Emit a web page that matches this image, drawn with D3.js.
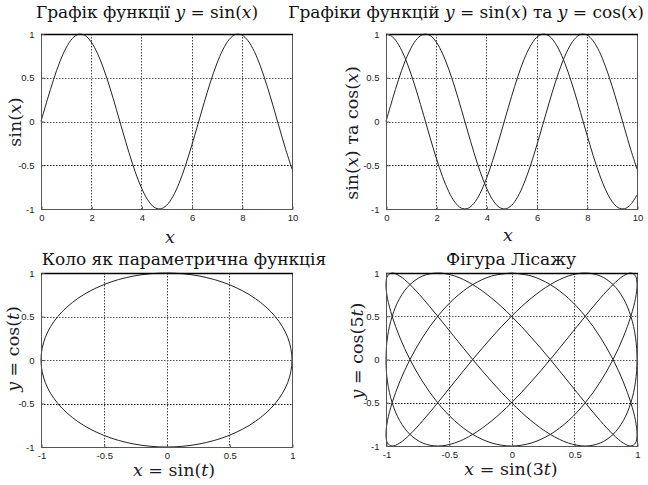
<!DOCTYPE html>
<html><head><meta charset="utf-8">
<script src="https://cdn.jsdelivr.net/npm/d3@7"></script>
<style>
html,body{margin:0;padding:0;background:#fff;}
svg{display:block;}
.tick-label{font-family:"Liberation Sans",Arial,sans-serif;font-size:9.5px;fill:#222;}
.title{font-family:"DejaVu Serif",serif;font-size:17px;fill:#111;}
.alabel{font-family:"DejaVu Serif",serif;font-size:17.5px;fill:#1a1a28;}
</style>
</head><body>
<svg id="chart" width="648" height="485"></svg>
<script>
// ---------- data ----------
const xTicksTop = [0, 2, 4, 6, 8, 10];
const yTicks = [-1, -0.5, 0, 0.5, 1];
const xTicksBottom = [-1, -0.5, 0, 0.5, 1];

const xVals = [0,0.25,0.5,0.75,1,1.25,1.5,1.75,2,2.25,2.5,2.75,3,3.25,3.5,3.75,4,4.25,4.5,4.75,5,
  5.25,5.5,5.75,6,6.25,6.5,6.75,7,7.25,7.5,7.75,8,8.25,8.5,8.75,9,9.25,9.5,9.75,10];
const sinVals = [0,0.247,0.479,0.682,0.841,0.949,0.997,0.984,0.909,0.778,0.598,0.382,0.141,-0.108,-0.351,
  -0.572,-0.757,-0.895,-0.978,-0.999,-0.959,-0.859,-0.706,-0.508,-0.279,-0.033,0.215,0.450,0.657,0.823,
  0.938,0.995,0.989,0.922,0.799,0.625,0.412,0.174,-0.075,-0.320,-0.544];
const cosVals = [1,0.969,0.878,0.732,0.540,0.315,0.071,-0.178,-0.416,-0.628,-0.801,-0.924,-0.990,-0.994,-0.936,
  -0.821,-0.654,-0.446,-0.211,0.038,0.284,0.512,0.709,0.861,0.960,0.999,0.977,0.893,0.754,0.568,
  0.347,0.104,-0.146,-0.386,-0.602,-0.781,-0.911,-0.985,-0.997,-0.948,-0.839];

const circleX = [0,0.259,0.5,0.707,0.866,0.966,1,0.966,0.866,0.707,0.5,0.259,0,
  -0.259,-0.5,-0.707,-0.866,-0.966,-1,-0.966,-0.866,-0.707,-0.5,-0.259];
const circleY = [1,0.966,0.866,0.707,0.5,0.259,0,-0.259,-0.5,-0.707,-0.866,-0.966,-1,
  -0.966,-0.866,-0.707,-0.5,-0.259,0,0.259,0.5,0.707,0.866,0.966];

const lissX = [
  0,0.156,0.309,0.454,0.588,0.707,0.809,0.891,0.951,0.988,1,0.988,0.951,0.891,0.809,0.707,0.588,0.454,0.309,0.156,
  0,-0.156,-0.309,-0.454,-0.588,-0.707,-0.809,-0.891,-0.951,-0.988,-1,-0.988,-0.951,-0.891,-0.809,-0.707,-0.588,-0.454,-0.309,-0.156,
  0,0.156,0.309,0.454,0.588,0.707,0.809,0.891,0.951,0.988,1,0.988,0.951,0.891,0.809,0.707,0.588,0.454,0.309,0.156,
  0,-0.156,-0.309,-0.454,-0.588,-0.707,-0.809,-0.891,-0.951,-0.988,-1,-0.988,-0.951,-0.891,-0.809,-0.707,-0.588,-0.454,-0.309,-0.156,
  0,0.156,0.309,0.454,0.588,0.707,0.809,0.891,0.951,0.988,1,0.988,0.951,0.891,0.809,0.707,0.588,0.454,0.309,0.156,
  0,-0.156,-0.309,-0.454,-0.588,-0.707,-0.809,-0.891,-0.951,-0.988,-1,-0.988,-0.951,-0.891,-0.809,-0.707,-0.588,-0.454,-0.309,-0.156,
  0];
const lissY = [
  1,0.966,0.866,0.707,0.5,0.259,0,-0.259,-0.5,-0.707,-0.866,-0.966,-1,-0.966,-0.866,-0.707,-0.5,-0.259,0,0.259,0.5,0.707,0.866,0.966,
  1,0.966,0.866,0.707,0.5,0.259,0,-0.259,-0.5,-0.707,-0.866,-0.966,-1,-0.966,-0.866,-0.707,-0.5,-0.259,0,0.259,0.5,0.707,0.866,0.966,
  1,0.966,0.866,0.707,0.5,0.259,0,-0.259,-0.5,-0.707,-0.866,-0.966,-1,-0.966,-0.866,-0.707,-0.5,-0.259,0,0.259,0.5,0.707,0.866,0.966,
  1,0.966,0.866,0.707,0.5,0.259,0,-0.259,-0.5,-0.707,-0.866,-0.966,-1,-0.966,-0.866,-0.707,-0.5,-0.259,0,0.259,0.5,0.707,0.866,0.966,
  1,0.966,0.866,0.707,0.5,0.259,0,-0.259,-0.5,-0.707,-0.866,-0.966,-1,-0.966,-0.866,-0.707,-0.5,-0.259,0,0.259,0.5,0.707,0.866,0.966,
  1];

// rich text pieces: [text, italic?]
const titles = [
  [["Графік функції ",0],["y",1],[" = sin(",0],["x",1],[")",0]],
  [["Графіки функцій ",0],["y",1],[" = sin(",0],["x",1],[") та ",0],["y",1],[" = cos(",0],["x",1],[")",0]],
  [["Коло як параметрична функція",0]],
  [["Фігура Лісажу",0]]
];
const xLabels = [
  [["x",1]],
  [["x",1]],
  [["x",1],[" = sin(",0],["t",1],[")",0]],
  [["x",1],[" = sin(3",0],["t",1],[")",0]]
];
const yLabels = [
  [["sin(",0],["x",1],[")",0]],
  [["sin(",0],["x",1],[") та cos(",0],["x",1],[")",0]],
  [["y",1],[" = cos(",0],["t",1],[")",0]],
  [["y",1],[" = cos(5",0],["t",1],[")",0]]
];

// ---------- layout ----------
const panels = [
  {x0:41, x1:292, y0:34, y1:209, xd:[0,10], xt:xTicksTop, tx:147, ty:18, lx:170, ly:243, yx:21, yy:122,
   series:[{x:xVals, y:sinVals, closed:false}]},
  {x0:386, x1:637, y0:34, y1:209, xd:[0,10], xt:xTicksTop, tx:466, ty:18, lx:508, ly:241, yx:358, yy:133,
   series:[{x:xVals, y:sinVals, closed:false},{x:xVals, y:cosVals, closed:false}]},
  {x0:41, x1:292, y0:273, y1:447, xd:[-1,1], xt:xTicksBottom, tx:184, ty:265, lx:174, ly:476, yx:19, yy:349,
   series:[{x:circleX, y:circleY, closed:true}]},
  {x0:386, x1:637, y0:273, y1:446, xd:[-1,1], xt:xTicksBottom, tx:511, ty:265, lx:511, ly:475, yx:363, yy:351,
   series:[{x:lissX, y:lissY, closed:false}]}
];

const svg = d3.select("#chart");
const fmt = d => String(d);

function rich(sel, parts){
  parts.forEach(([t,it]) => {
    sel.append("tspan").text(t).attr("font-style", it ? "italic" : "normal");
  });
}

panels.forEach((p, i) => {
  const x = d3.scaleLinear().domain(p.xd).range([p.x0, p.x1]);
  const y = d3.scaleLinear().domain([-1,1]).range([p.y1, p.y0]);
  const g = svg.append("g");

  // grid
  g.selectAll(".gx").data(p.xt.slice(1,-1)).enter().append("line")
    .attr("x1", d=>Math.round(x(d))+0.5).attr("x2", d=>Math.round(x(d))+0.5).attr("y1", p.y0).attr("y2", p.y1)
    .attr("stroke", "#444").attr("stroke-width", 1).attr("stroke-dasharray", "1.5,1.5");
  g.selectAll(".gy").data(yTicks.slice(1,-1)).enter().append("line")
    .attr("y1", d=>Math.round(y(d))+0.5).attr("y2", d=>Math.round(y(d))+0.5).attr("x1", p.x0).attr("x2", p.x1)
    .attr("stroke", d => d === -0.5 ? "#111" : "#555").attr("stroke-width", 1).attr("stroke-dasharray", "1.5,1.5");

  // clip
  const cid = "clip"+i;
  svg.append("clipPath").attr("id", cid).append("rect")
    .attr("x", p.x0-1).attr("y", p.y0-1).attr("width", p.x1-p.x0+2).attr("height", p.y1-p.y0+2);

  // series
  p.series.forEach(s => {
    const pts = s.x.map((v,k) => [v, s.y[k]]);
    const line = d3.line().x(d=>x(d[0])).y(d=>y(d[1]))
      .curve(s.closed ? d3.curveCatmullRomClosed : d3.curveCatmullRom);
    g.append("path").datum(pts).attr("d", line).attr("fill","none")
      .attr("stroke","#222").attr("stroke-width",1).attr("clip-path", `url(#${cid})`);
  });

  // box
  g.append("rect").attr("x", p.x0+0.5).attr("y", p.y0+0.5)
    .attr("width", p.x1-p.x0).attr("height", p.y1-p.y0)
    .attr("fill","none").attr("stroke","#555").attr("stroke-width",1);
  g.append("line").attr("x1", p.x0).attr("x2", p.x1+1).attr("y1", p.y0+0.5).attr("y2", p.y0+0.5)
    .attr("stroke","#000").attr("stroke-width",1.6);

  // axes (ticks inward, labels)
  const xAxis = d3.axisBottom(x).tickValues(p.xt).tickFormat(fmt).tickSize(-3).tickPadding(5);
  const ax = g.append("g").attr("transform", `translate(0.5,${p.y1+0.5})`).call(xAxis);
  const yAxis = d3.axisLeft(y).tickValues(yTicks).tickFormat(fmt).tickSize(-3).tickPadding(7);
  const ay = g.append("g").attr("transform", `translate(${p.x0+0.5},0)`).call(yAxis);
  [ax, ay].forEach(a => {
    a.select(".domain").remove();
    a.selectAll(".tick line").attr("stroke","#555");
    a.selectAll(".tick text").attr("class","tick-label").attr("font-family",null).attr("font-size",null);
  });

  // title
  const t = g.append("text").attr("class","title").attr("x", p.tx).attr("y", p.ty).attr("text-anchor","middle");
  rich(t, titles[i]);
  // x label
  const xl = g.append("text").attr("class","alabel").attr("x", p.lx).attr("y", p.ly).attr("text-anchor","middle");
  rich(xl, xLabels[i]);
  // y label
  const yl = g.append("text").attr("class","alabel").attr("text-anchor","middle")
    .attr("transform", `translate(${p.yx},${p.yy}) rotate(-90)`);
  rich(yl, yLabels[i]);
});
</script>
</body></html>
